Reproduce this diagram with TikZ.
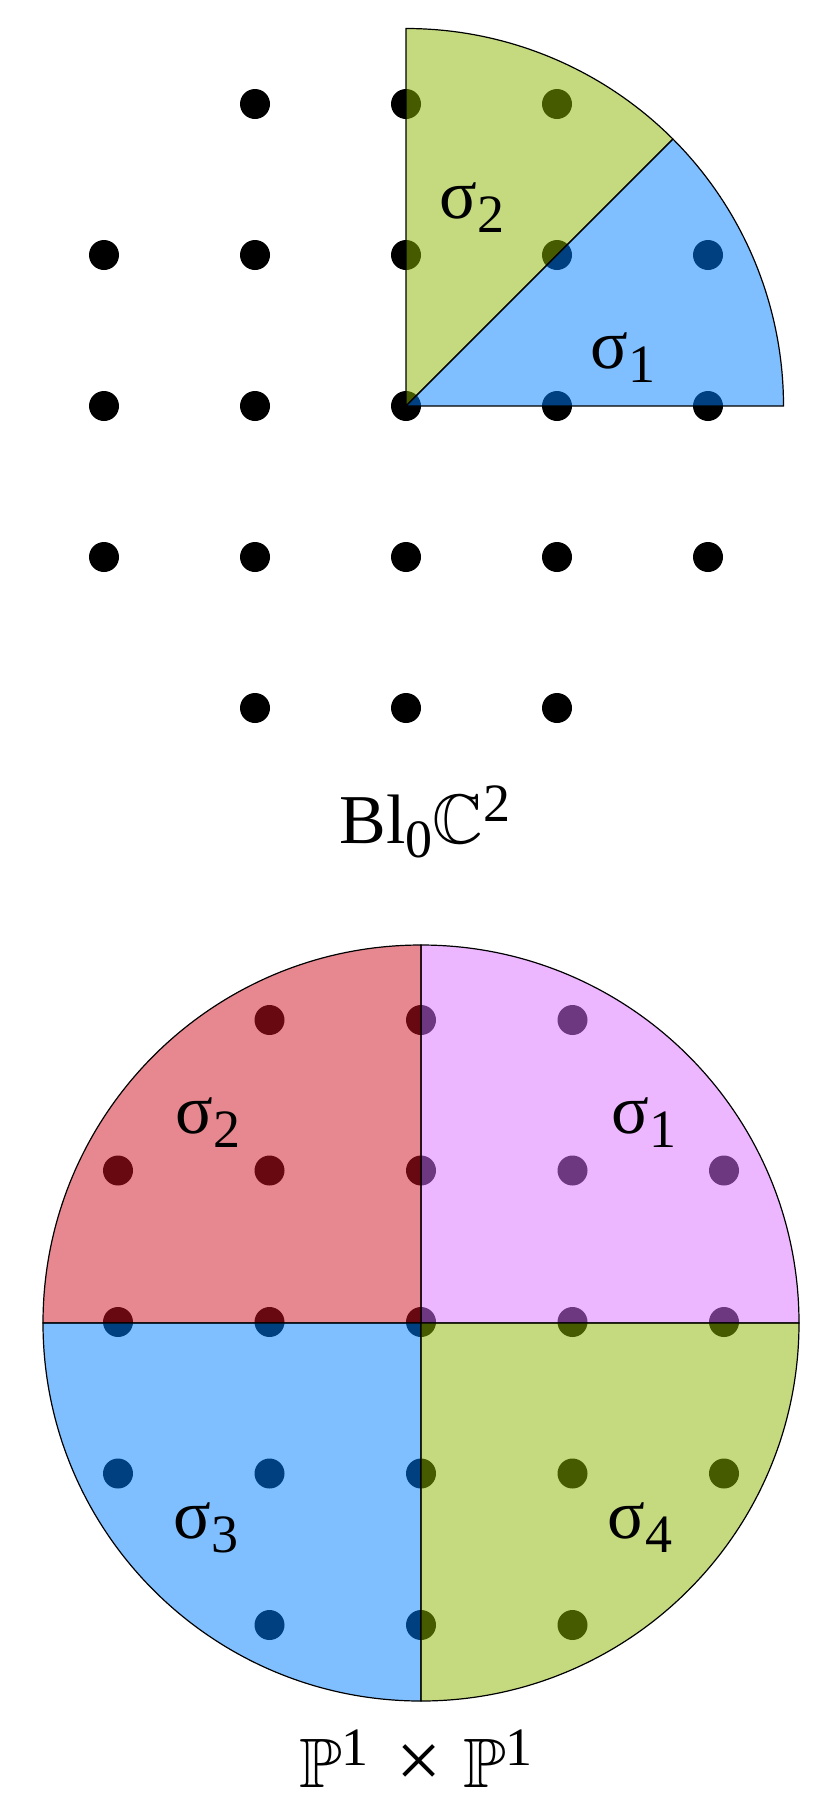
\documentclass[tikz,border=0pt]{standalone}
\usepackage{fontspec}
\usepackage{amssymb}
\setmainfont{Liberation Serif}
\usepackage{xcolor}

\definecolor{sectgreen}{RGB}{140,180,0}
\definecolor{sectblue}{RGB}{0,128,255}
\definecolor{sectred}{RGB}{208,16,32}
\definecolor{sectpink}{RGB}{220,112,255}

\newcommand{\lowidx}[1]{\raisebox{-7pt}{\fontsize{27}{30}\selectfont #1}}
\newcommand{\upidx}[1]{\raisebox{11pt}{\fontsize{27}{30}\selectfont #1}}

\tikzset{
  latpt/.style={fill=black},
  sector/.style={draw=black, line width=0.6pt, fill opacity=0.5, draw opacity=1},
  conelabel/.style={anchor=base, inner sep=0pt, font=\fontsize{35}{40}\selectfont}
}

\begin{document}
\begin{tikzpicture}[x=0.5pt,y=0.5pt,yscale=-1,xscale=1]
\useasboundingbox (0,0) rectangle (828,1799);

%Coordinates: origins of the two fans
\coordinate (blo) at (406,406);
\coordinate (pp) at (421,1323);

%Lattice points of the upper fan
\foreach \i in {-1,0,1} {
  \fill [latpt] (406+151*\i,104) circle (15);
  \fill [latpt] (406+151*\i,708) circle (15);
}
\foreach \j in {-1,0,1} {
  \foreach \i in {-2,...,2} {
    \fill [latpt] (406+151*\i,406+151*\j) circle (15);
  }
}

%Lattice points of the lower fan
\foreach \i in {-1,0,1} {
  \fill [latpt] (421+151.5*\i,1020) circle (15);
  \fill [latpt] (421+151.5*\i,1625) circle (15);
}
\foreach \j in {-1,0,1} {
  \foreach \i in {-2,...,2} {
    \fill [latpt] (421+151.5*\i,1322+151.5*\j) circle (15);
  }
}

%Shape: upper fan, cone sigma_2
\draw [sector, fill=sectgreen] (blo) -- (406,28.5) arc [start angle=-90, end angle=-45, radius=377.5] -- cycle;
%Shape: upper fan, cone sigma_1
\draw [sector, fill=sectblue] (blo) -- (783.5,406) arc [start angle=0, end angle=-45, radius=377.5] -- cycle;

%Shape: lower fan, cone sigma_1
\draw [sector, fill=sectpink] (pp) -- (799,1323) arc [start angle=0, end angle=-90, radius=378] -- cycle;
%Shape: lower fan, cone sigma_2
\draw [sector, fill=sectred] (pp) -- (421,945) arc [start angle=-90, end angle=-180, radius=378] -- cycle;
%Shape: lower fan, cone sigma_3
\draw [sector, fill=sectblue] (pp) -- (43,1323) arc [start angle=180, end angle=90, radius=378] -- cycle;
%Shape: lower fan, cone sigma_4
\draw [sector, fill=sectgreen] (pp) -- (421,1701) arc [start angle=90, end angle=0, radius=378] -- cycle;

% Text Node
\node [conelabel] (blsigtwo) at (472,218) {σ\lowidx{2}};
% Text Node
\node [conelabel] (blsigone) at (623,368) {σ\lowidx{1}};
% Text Node
\node [conelabel] (bltitle) at (425,843) {Bl\lowidx{0}$\mathbb{C}$\upidx{2}};
% Text Node
\node [conelabel] (ppsigtwo) at (208,1133) {σ\lowidx{2}};
% Text Node
\node [conelabel] (ppsigone) at (644,1133) {σ\lowidx{1}};
% Text Node
\node [conelabel] (ppsigthree) at (206,1538) {σ\lowidx{3}};
% Text Node
\node [conelabel] (ppsigfour) at (640,1538) {σ\lowidx{4}};
% Text Node
\node [conelabel] (pptitle) at (416,1787) {$\mathbb{P}$\upidx{1}\hspace{0.4em}{\fontsize{40}{44}\selectfont ×}\hspace{0.3em}$\mathbb{P}$\upidx{1}};

\end{tikzpicture}
\end{document}
